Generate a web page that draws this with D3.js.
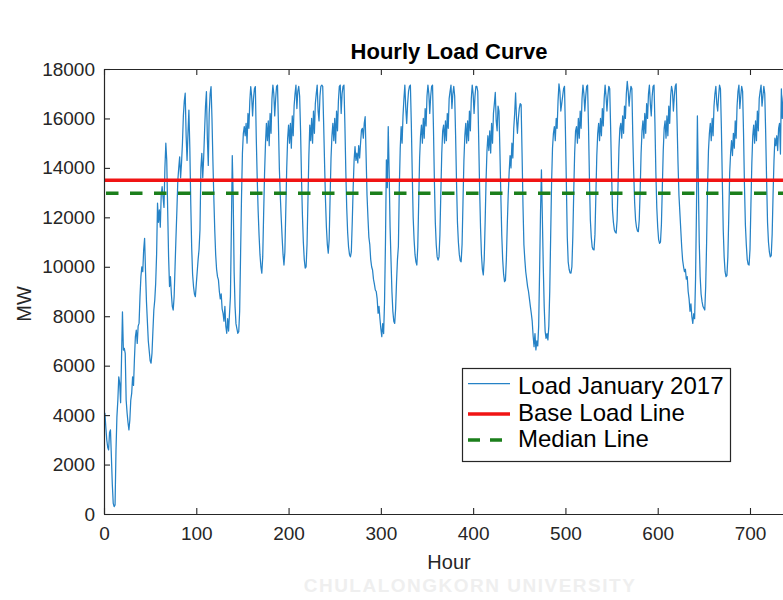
<!DOCTYPE html>
<html>
<head>
<meta charset="utf-8">
<script src="https://cdn.jsdelivr.net/npm/d3@7"></script>
<style>
  body { margin: 0; background: #ffffff; }
  svg { display: block; font-family: "Liberation Sans", Arial, Helvetica, sans-serif; }
</style>
</head>
<body>
<svg id="chart" width="783" height="600"></svg>
<script>
// ---------------- DATA ----------------
const titleText = "Hourly Load Curve";
const xLabel = "Hour";
const yLabel = "MW";
const xTicks = [0, 100, 200, 300, 400, 500, 600, 700];
const yTicks = [0, 2000, 4000, 6000, 8000, 10000, 12000, 14000, 16000, 18000];
const seriesNames = ["Load January 2017", "Base Load Line", "Median Line"];
const baseLoadMW = 13500;
const medianMW = 12970;
const watermark = "CHULALONGKORN UNIVERSITY";

// hourly load, January 2017 (one row per day, 24 values each)
const loadMW = [
  4000, 4070, 3500, 3000, 2700, 2590, 3300, 3400, 2320, 1200, 430, 300, 370, 2590, 3940, 4600, 5550, 5300, 4500, 6300, 8180, 6630, 6700, 6500,
  4610, 4100, 3700, 3400, 3800, 4600, 4880, 5550, 5200, 6300, 7170, 7440, 6900, 7600, 7720, 8800, 9600, 10000, 9800, 10700, 11150, 9800, 8600, 7800,
  7000, 6600, 6200, 6100, 6500, 7400, 8250, 8650, 9330, 10500, 12570, 11800, 12300, 11600, 12900, 13240, 12800, 12400, 14000, 15000, 14300, 12300, 10400, 9200,
  9600, 8900, 8400, 8250, 8800, 10000, 11200, 12300, 13500, 14000, 14450, 13600, 14200, 15000, 16100, 16700, 17020, 15300, 14300, 15400, 16340, 14800, 12600, 10800,
  9700, 9200, 8900, 8790, 9300, 9800, 10300, 10700, 11500, 14000, 14590, 13600, 14400, 15500, 16500, 17085, 15200, 14100, 16200, 17000, 17290, 16000, 14300, 12800,
  11500, 10500, 9900, 9600, 9470, 9000, 8700, 8900, 8300, 8120, 7800, 8400, 7600, 7310, 7900, 7400, 8100, 8800, 11500, 14500, 12800, 9800, 8400, 7700,
  7500, 7310, 7375, 8200, 10500, 12800, 14600, 15400, 15670, 15300, 15800, 15000, 16200, 15600, 16700, 17290, 16900, 16100, 16800, 17200, 17290, 15200, 13600, 12300,
  11300, 10500, 10000, 9740, 10400, 12170, 13800, 15000, 15800, 15100, 15900, 14900, 16200, 15400, 16800, 17350, 17000, 16100, 16800, 17300, 17350, 15800, 14000, 12900,
  12000, 11200, 10500, 10070, 10600, 12300, 14000, 15200, 15730, 15000, 15800, 14800, 16100, 15300, 16500, 17000, 17350, 16400, 17100, 17300, 16900, 15500, 13600, 12100,
  11000, 10300, 9950, 10000, 10900, 12700, 14500, 15730, 15100, 16000, 15000, 16300, 15400, 16600, 17000, 17350, 16300, 15900, 16900, 17300, 17350, 17300, 15800, 14200,
  12700, 11600, 10900, 10550, 11100, 12800, 14400, 15300, 15800, 15100, 16000, 15000, 16300, 15500, 16700, 17300, 17350, 16200, 17000, 17300, 17350, 15800, 13900, 12400,
  11400, 10800, 10500, 10400, 10600, 11800, 13200, 14300, 14860, 14300, 14600, 14200, 14900, 14400, 15000, 15530, 15600, 15200, 15800, 16070, 14500, 12900, 12000, 11200,
  10900, 10300, 10000, 9870, 9500, 9300, 9060, 9000, 8700, 8120, 8400, 7900, 7500, 7170, 7700, 7300, 8600, 11000, 14320, 13200, 15670, 13800, 11600, 10270,
  9000, 8200, 7800, 7710, 8300, 9400, 10300, 10820, 13200, 14800, 15670, 15000, 16100, 16800, 17350, 16400, 15800, 16600, 17100, 17300, 17350, 15800, 13800, 12000,
  11100, 10500, 10200, 10070, 10800, 12600, 14400, 15300, 15730, 15000, 16000, 15200, 16400, 15700, 16900, 17350, 17000, 16200, 16900, 17300, 17350, 15600, 13500, 11800,
  10900, 10400, 10270, 10400, 11300, 13000, 14600, 15500, 15730, 15000, 15900, 15100, 16200, 15600, 16800, 17100, 17350, 16400, 17000, 17300, 16900, 15300, 13400, 11800,
  11000, 10500, 10250, 10200, 10900, 12600, 14300, 15300, 15800, 15000, 15900, 15100, 16300, 15500, 16800, 17350, 17000, 16200, 16900, 17300, 17300, 17100, 15200, 13200,
  11600, 10500, 9900, 9670, 10300, 11800, 13500, 14700, 15300, 14700, 15500, 14600, 15800, 15000, 16200, 16600, 17050, 15900, 15500, 16500, 16300, 14700, 12900, 11300,
  10300, 9700, 9400, 9450, 10300, 11700, 12900, 13800, 14500, 14000, 15000, 14400, 15600, 16200, 17030, 16000, 15400, 16000, 16400, 16600, 16560, 14600, 12500, 10900,
  10300, 9800, 9500, 9200, 9000, 8700, 8400, 8120, 7800, 7200, 6770, 7300, 6640, 7000, 6800, 7600, 9800, 12200, 13920, 12000, 10000, 8400, 7400, 7100,
  7300, 7040, 7600, 9000, 11200, 13400, 14800, 15400, 15670, 15100, 16000, 15600, 16700, 17400, 17100, 16300, 16600, 16900, 17200, 17300, 15500, 13400, 11200, 10200,
  9900, 9750, 9740, 10000, 11200, 13000, 14600, 15500, 15670, 15000, 16000, 15200, 16300, 15600, 16800, 17350, 17000, 16300, 16900, 17300, 17350, 15700, 13600, 11900,
  11200, 10800, 10700, 10680, 11300, 12900, 14500, 15400, 15800, 15100, 16000, 15300, 16400, 15700, 16800, 17350, 16900, 16300, 16900, 17300, 17200, 15600, 13800, 12300,
  11800, 11500, 11400, 11360, 11900, 13300, 14800, 15600, 15800, 15200, 16100, 15400, 16500, 16000, 17000, 17500, 17100, 16500, 17000, 17300, 17200, 15300, 13800, 12600,
  11900, 11600, 11450, 11420, 11900, 13100, 14600, 15500, 15900, 15200, 16200, 15400, 16600, 16000, 17000, 17350, 16600, 16100, 16900, 17300, 17350, 15800, 13800, 12400,
  11600, 11100, 10950, 11000, 11700, 13200, 14700, 15600, 15900, 15200, 16100, 15300, 16500, 15800, 16900, 17300, 17100, 16300, 16900, 17300, 17400, 15800, 14200, 12900,
  12200, 11500, 10800, 10270, 10000, 9800, 9900, 9500, 9600, 9000, 8700, 8200, 8500, 7980, 7710, 8100, 7900, 9500, 12300, 16100, 13500, 11000, 9600, 8900,
  8600, 8400, 8320, 8250, 9200, 11000, 13200, 14700, 15400, 15800, 15100, 16000, 15300, 16500, 17000, 17300, 16600, 16300, 16900, 17350, 17200, 15600, 13500, 11500,
  10400, 9800, 9600, 9650, 10400, 12000, 13800, 14600, 15100, 14500, 15400, 14800, 15900, 15200, 16500, 17100, 17350, 16400, 16900, 17300, 17100, 15400, 13300, 11700,
  10900, 10300, 10100, 10070, 10700, 12500, 14200, 15300, 15730, 15000, 15900, 15100, 16300, 15500, 16800, 17100, 17350, 16500, 16900, 17300, 17000, 15400, 13500, 11800,
  11000, 10600, 10400, 10450, 11300, 12900, 14300, 15200, 14900, 15300, 14700, 15600, 15800, 14560, 17200, 16000, 16800, 17200, 16600, 15200, 13600, 12200, 11500, 11000
];
const hours = loadMW.map((d, i) => i);   // category axis: hour index

// ---------------- CHART ----------------
const svg = d3.select("#chart");
const W = 783, H = 600;
svg.append("rect").attr("width", W).attr("height", H).attr("fill", "#ffffff");

const plot = { left: 104, right: 790.6, top: 69, bottom: 514 };
const x = d3.scaleLinear().domain([0, 744]).range([plot.left, plot.right]);
const y = d3.scaleLinear().domain([0, 18000]).range([plot.bottom, plot.top]);

const axisColor = "#262626";

// watermark
svg.append("text")
  .attr("x", 470).attr("y", 592)
  .attr("text-anchor", "middle")
  .attr("font-size", 19).attr("font-weight", "bold")
  .attr("letter-spacing", 1.5)
  .attr("fill", "#efefef")
  .text(watermark);

// clip
svg.append("clipPath").attr("id", "plotclip")
  .append("rect")
  .attr("x", plot.left).attr("y", plot.top)
  .attr("width", plot.right - plot.left).attr("height", plot.bottom - plot.top);

const g = svg.append("g").attr("clip-path", "url(#plotclip)");

// load curve
const line = d3.line().x((d, i) => x(hours[i])).y(d => y(d));
g.append("path")
  .datum(loadMW)
  .attr("fill", "none")
  .attr("stroke", "#2582c6")
  .attr("stroke-width", 1.25)
  .attr("stroke-linejoin", "round")
  .attr("d", line);

// base load line
g.append("line")
  .attr("x1", x(0)).attr("x2", x(744))
  .attr("y1", y(baseLoadMW)).attr("y2", y(baseLoadMW))
  .attr("stroke", "#f01414").attr("stroke-width", 3.5);

// median line
g.append("line")
  .attr("x1", x(0) + 2).attr("x2", x(744))
  .attr("y1", y(medianMW)).attr("y2", y(medianMW))
  .attr("stroke", "#1b7f1b").attr("stroke-width", 3.5)
  .attr("stroke-dasharray", "12.5,11.5");

// axes
function styleAxis(sel) {
  sel.selectAll("path.domain").attr("stroke", axisColor).attr("stroke-width", 1.2);
  sel.selectAll(".tick line").attr("stroke", axisColor).attr("stroke-width", 1.1);
  sel.selectAll(".tick text").attr("fill", axisColor).attr("font-size", 19)
    .attr("font-family", "'Liberation Sans', Arial, sans-serif");
}

svg.append("g")
  .attr("transform", `translate(0,${plot.bottom})`)
  .call(d3.axisBottom(x).tickValues(xTicks).tickSizeInner(-6).tickSizeOuter(0).tickPadding(13))
  .call(styleAxis);

svg.append("g")
  .attr("transform", `translate(0,${plot.top})`)
  .call(d3.axisTop(x).tickValues(xTicks).tickSizeInner(-6).tickSizeOuter(0).tickFormat(""))
  .call(styleAxis);

svg.append("g")
  .attr("transform", `translate(${plot.left},0)`)
  .call(d3.axisLeft(y).tickValues(yTicks).tickSizeInner(-6).tickSizeOuter(0).tickPadding(9).tickFormat(d3.format("d")))
  .call(styleAxis);

svg.append("g")
  .attr("transform", `translate(${plot.right},0)`)
  .call(d3.axisRight(y).tickValues(yTicks).tickSizeInner(-6).tickSizeOuter(0).tickFormat(""))
  .call(styleAxis);

// title
svg.append("text")
  .attr("x", 449).attr("y", 59)
  .attr("text-anchor", "middle")
  .attr("font-size", 22).attr("font-weight", "bold")
  .attr("fill", "#000000")
  .text(titleText);

// axis labels
svg.append("text")
  .attr("x", 449).attr("y", 569)
  .attr("text-anchor", "middle")
  .attr("font-size", 20).attr("fill", axisColor)
  .text(xLabel);

svg.append("text")
  .attr("transform", `translate(31,304) rotate(-90)`)
  .attr("text-anchor", "middle")
  .attr("font-size", 20).attr("fill", axisColor)
  .text(yLabel);

// legend
const legend = svg.append("g");
legend.append("rect")
  .attr("x", 462.5).attr("y", 368.5)
  .attr("width", 268).attr("height", 93)
  .attr("fill", "#ffffff")
  .attr("stroke", axisColor).attr("stroke-width", 1.2);

const legendStyles = [
  { stroke: "#2582c6", width: 1.25, dash: null, ly: 383.5, ty: 393.5 },
  { stroke: "#f01414", width: 3.5, dash: null, ly: 414, ty: 420.5 },
  { stroke: "#1b7f1b", width: 3.5, dash: "12,10", ly: 440, ty: 447 }
];
seriesNames.forEach((name, i) => {
  const s = legendStyles[i];
  const ln = legend.append("line")
    .attr("x1", 468).attr("x2", 510)
    .attr("y1", s.ly).attr("y2", s.ly)
    .attr("stroke", s.stroke).attr("stroke-width", s.width);
  if (s.dash) ln.attr("stroke-dasharray", s.dash);
  legend.append("text")
    .attr("x", 518).attr("y", s.ty)
    .attr("font-size", 24).attr("fill", "#000000")
    .text(name);
});
</script>
</body>
</html>
